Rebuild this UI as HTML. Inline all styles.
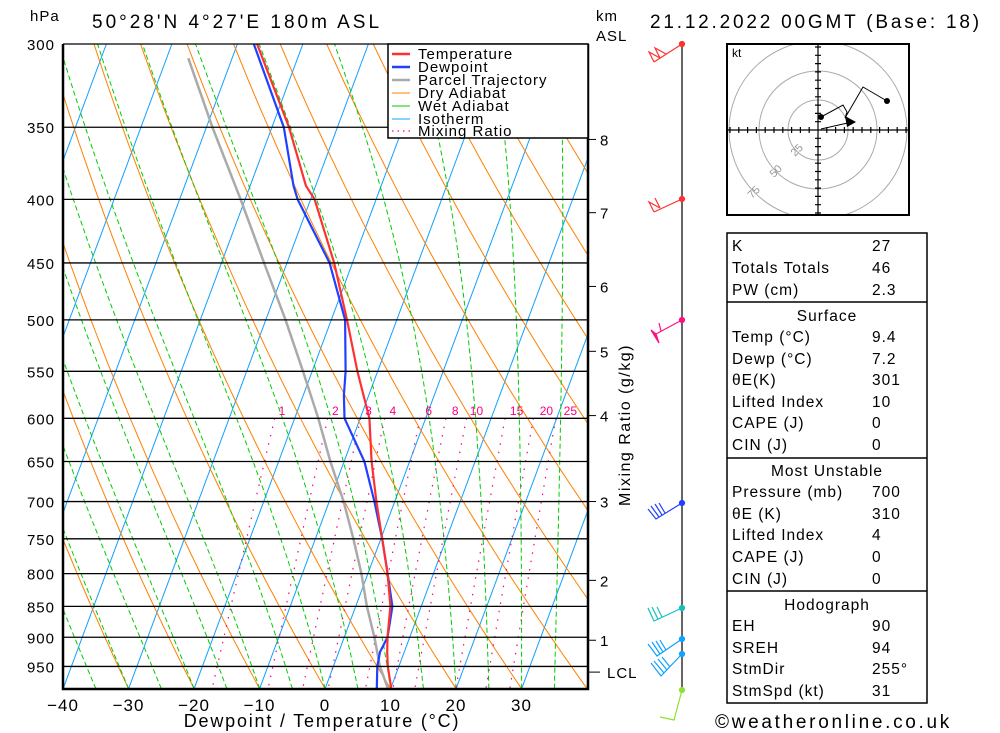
<!DOCTYPE html>
<html><head><meta charset="utf-8">
<style>
html,body{margin:0;padding:0;background:#fff;}
svg{display:block;font-family:"Liberation Sans",sans-serif;}
.t{font-size:15px;letter-spacing:1px;fill:#000;}
</style></head>
<body>
<svg id="chart" width="1000" height="733" viewBox="0 0 1000 733" xmlns="http://www.w3.org/2000/svg">
<defs><clipPath id="plotclip"><rect x="63" y="44" width="525" height="645"/></clipPath>
<clipPath id="hodoclip"><rect x="728" y="45" width="180" height="169"/></clipPath></defs>
<rect x="0" y="0" width="1000" height="733" fill="#fff"/>
<g id="bg" clip-path="url(#plotclip)"></g>
<g id="series" clip-path="url(#plotclip)"></g>
<g id="axes"></g>

<text x="30" y="21" class="t">hPa</text>
<text x="92" y="28" style="font-size:19px;letter-spacing:3px">50°28'N 4°27'E 180m ASL</text>
<text x="650" y="28" style="font-size:19px;letter-spacing:2.8px">21.12.2022 00GMT (Base: 18)</text>
<text x="596" y="21" class="t">km</text>
<text x="596" y="41" class="t">ASL</text>
<text x="322" y="727" text-anchor="middle" style="font-size:18px;letter-spacing:1.8px">Dewpoint / Temperature (°C)</text>
<text transform="translate(630,425) rotate(-90)" text-anchor="middle" style="font-size:16px;letter-spacing:1.5px">Mixing Ratio (g/kg)</text>

<g>
<rect x="388" y="44" width="200" height="94" fill="#fff" stroke="#000" stroke-width="1.5"/>
<line x1="392" y1="54" x2="410" y2="54" stroke="#ff3030" stroke-width="2.5"/><text x="418" y="59" class="t">Temperature</text>
<line x1="392" y1="67" x2="410" y2="67" stroke="#2040ff" stroke-width="2.5"/><text x="418" y="72" class="t">Dewpoint</text>
<line x1="392" y1="80" x2="410" y2="80" stroke="#aaa" stroke-width="2.5"/><text x="418" y="85" class="t">Parcel Trajectory</text>
<line x1="392" y1="93" x2="410" y2="93" stroke="#ff8000" stroke-width="1"/><text x="418" y="98" class="t">Dry Adiabat</text>
<line x1="392" y1="106" x2="410" y2="106" stroke="#00cc00" stroke-width="1"/><text x="418" y="111" class="t">Wet Adiabat</text>
<line x1="392" y1="119" x2="410" y2="119" stroke="#10a0ff" stroke-width="1"/><text x="418" y="124" class="t">Isotherm</text>
<line x1="392" y1="131" x2="410" y2="131" stroke="#ff0080" stroke-width="1.2" stroke-dasharray="1.5,4"/><text x="418" y="136" class="t">Mixing Ratio</text>
</g>

<g fill="none" stroke-width="1.2">
<line x1="682" y1="44" x2="682" y2="690" stroke="#000" stroke-width="1.2"/>
<g stroke="#ff3030"><polyline points="682,44 654,62"/><polyline points="654,62 649,52 660,58"/><polyline points="660,58 655,48 666,54"/><circle cx="682" cy="44" r="2.5" fill="#ff3030"/></g>
<g stroke="#ff3030"><polyline points="682,199 654,212"/><polyline points="654,212 649,202 660,208"/><polyline points="660,208 655,198"/><circle cx="682" cy="199" r="2.5" fill="#ff3030"/></g>
<g stroke="#ff1080"><polyline points="682,320 656,334"/><polygon points="656,334 651,330 659,343" fill="#ff1080"/><line x1="661" y1="331" x2="659" y2="323"/><circle cx="682" cy="320" r="2.5" fill="#ff1080"/></g>
<g stroke="#2040ff"><polyline points="682,503 656,519 648,509"/><line x1="659" y1="517" x2="651" y2="506"/><line x1="662" y1="515" x2="655" y2="504"/><line x1="665" y1="513" x2="659" y2="503"/><circle cx="682" cy="503" r="2.5" fill="#2040ff"/></g>
<g stroke="#10c0c0"><polyline points="682,608 654,621 648,608"/><line x1="658" y1="619" x2="652" y2="607"/><line x1="662" y1="617" x2="657" y2="607"/><circle cx="682" cy="608" r="2.5" fill="#10c0c0"/></g>
<g stroke="#10a0ff"><polyline points="682,639 657,656 648,644"/><line x1="660" y1="654" x2="652" y2="642"/><line x1="663" y1="652" x2="656" y2="641"/><line x1="666" y1="650" x2="660" y2="640"/><circle cx="682" cy="639" r="2.5" fill="#10a0ff"/></g>
<g stroke="#10a0ff"><polyline points="682,654 661,676 651,663"/><line x1="664" y1="673" x2="654" y2="661"/><line x1="667" y1="670" x2="658" y2="659"/><line x1="670" y1="667" x2="662" y2="657"/><circle cx="682" cy="654" r="2.5" fill="#10a0ff"/></g>
<g stroke="#90e030"><polyline points="682,690 674,720 660,717"/><circle cx="682" cy="690" r="2.5" fill="#90e030"/></g>
</g>

<g>
<rect x="727" y="44" width="182" height="171" fill="#fff" stroke="#000" stroke-width="2"/>
<g clip-path="url(#hodoclip)" fill="none" stroke="#aaa" stroke-width="1">
<circle cx="818" cy="130" r="30"/><circle cx="818" cy="130" r="59"/><circle cx="818" cy="130" r="89"/>
</g>
<g stroke="#000" stroke-width="1.2">
<line x1="728" y1="130" x2="908" y2="130"/><line x1="818" y1="45" x2="818" y2="214"/>
<path id="hticks" d=""/>
</g>
<text x="732" y="57" style="font-size:12px">kt</text>
<text transform="translate(795,157) rotate(-45)" style="font-size:11px;fill:#999">25</text>
<text transform="translate(774,178) rotate(-45)" style="font-size:11px;fill:#999">50</text>
<text transform="translate(752,199) rotate(-45)" style="font-size:11px;fill:#999">75</text>
<polyline points="821,117 843,105 847,112 845,118 863,87 887,101" fill="none" stroke="#000" stroke-width="1"/>
<line x1="821" y1="129" x2="852" y2="122" stroke="#000" stroke-width="1"/>
<polygon points="856,122 845,116 847,127" fill="#000"/>
<circle cx="821" cy="117" r="3" fill="#000"/><circle cx="887" cy="101" r="3" fill="#000"/>
</g>

<g class="t" style="font-size:15.5px">
<rect x="727" y="233" width="200" height="470" fill="none" stroke="#000" stroke-width="1.5"/>
<line x1="727" y1="302" x2="927" y2="302" stroke="#000" stroke-width="1.5"/>
<line x1="727" y1="458" x2="927" y2="458" stroke="#000" stroke-width="1.5"/>
<line x1="727" y1="591" x2="927" y2="591" stroke="#000" stroke-width="1.5"/>
<g id="tbl"></g>
</g>
<text x="715" y="728" style="font-size:19px;letter-spacing:2.7px">©weatheronline.co.uk</text>

<script>
// ---- data ----
var pLevels = [300,350,390,400,450,500,550,575,600,650,700,750,800,850,900,925,950,990];
var tempC   = [-47.0,-37.4,-31.5,-29.4,-22.8,-17.6,-13.1,-10.8,-8.6,-5.8,-2.8,0.2,3.0,5.3,6.6,7.4,8.3,10.1];
var dewC    = [-47.5,-38.2,-33.4,-32.0,-23.5,-17.9,-14.9,-13.8,-12.4,-6.9,-3.1,0.2,3.0,5.6,6.6,6.3,6.7,7.9];
var parcelP = [308,350,400,450,500,550,600,650,700,750,800,850,900,950,990];
var parcelC = [-56.7,-49.1,-40.7,-33.5,-27.0,-21.4,-16.4,-12.1,-7.8,-4.2,-1.0,1.7,4.6,7.1,9.6];
var isobars = [300,350,400,450,500,550,600,650,700,750,800,850,900,950];
var xTicks = [-40,-30,-20,-10,0,10,20,30];
var kmTicks = [8,7,6,5,4,3,2,1];
var kmPress = [358,410,470,530,597,700,810,905];
var lclP = 960;
var mixRatios = [1,2,3,4,6,8,10,15,20,25];
var isotherms = [-110,-100,-90,-80,-70,-60,-50,-40,-30,-20,-10,0,10,20,30,40];
var dryBottomC = [-70,-60,-50,-40,-30,-20,-10,0,10,20,30,40,50,60,70,80,90,100,110,120,130,140];
var wetBottomC = [-40,-35,-30,-25,-20,-15,-10,-5,0,5,10,15,20,25,30,35,40];
var tblLabels = ["K","Totals Totals","PW (cm)","","Temp (°C)","Dewp (°C)","θE(K)","Lifted Index","CAPE (J)","CIN (J)","","Pressure (mb)","θE (K)","Lifted Index","CAPE (J)","CIN (J)","","EH","SREH","StmDir","StmSpd (kt)"];
var tblValues = ["27","46","2.3","Surface","9.4","7.2","301","10","0","0","Most Unstable","700","310","4","0","0","Hodograph","90","94","255°","31"];

// ---- axes functions ----
var X0=325, XS=6.55, SK=0.372, YB=689, Y300=44, YK=540, PB=990;
function yP(p){ return Y300 + YK*(Math.log(p)-Math.log(300)); }
function xT(t,p){ return X0 + XS*t + SK*(YB - yP(p)); }
var NS="http://www.w3.org/2000/svg";
function mk(tag,parent){ var e=document.createElementNS(NS,tag); parent.appendChild(e); return e; }
var bg=document.getElementById('bg'), se=document.getElementById('series'), ax=document.getElementById('axes');
function poly(parent,pts,color,w,dash){
  var e=mk('polyline',parent);
  e.setAttribute('points',pts.map(function(q){return q[0].toFixed(1)+','+q[1].toFixed(1);}).join(' '));
  e.setAttribute('fill','none'); e.setAttribute('stroke',color); e.setAttribute('stroke-width',w);
  if(dash) e.setAttribute('stroke-dasharray',dash);
  return e;
}
isotherms.forEach(function(t){
  var l=poly(bg,[[xT(t,1000),yP(1000)],[xT(t,300),yP(300)]],'#10a0ff',1);
  
  
});
dryBottomC.forEach(function(tb){
  var th=tb+273.15, pts=[];
  for(var p=1000;p>=295;p-=10){ pts.push([xT(th*Math.pow(p/PB,0.286)-273.15,p),yP(p)]); }
  var l=poly(bg,pts,'#ff8000',1);
  
  
});
function es(tc){return 6.112*Math.exp(17.67*tc/(tc+243.5));}
wetBottomC.forEach(function(tw){
  var T=tw+273.15, pts=[];
  for(var p=PB;p>=300;p-=5){
    pts.push([xT(T-273.15,p),yP(p)]);
    var e=es(T-273.15), rs=0.622*e/(p-e);
    var d=(287*T+2.5e6*rs)/(p*(1005+2.5e6*2.5e6*rs*0.622/(287*T*T)));
    T-=5*d;
  }
  var l=poly(bg,pts,'#00cc00',1,'5,3');
  
  
});
function tdFromW(w,p){ var e=w*p/(622+w); var a=Math.log(e/6.112); return 243.5*a/(17.67-a); }
mixRatios.forEach(function(w){
  var pts=[]; for(var p=600;p<=1000;p+=10){ pts.push([xT(tdFromW(w,p),p),yP(p)]); }
  var l=poly(bg,pts,'#ff0080',1.2,'1.5,7');
  
  
  var t=mk('text',ax); t.textContent=w; t.setAttribute('x',xT(tdFromW(w,600),600)+7+w*0.3); t.setAttribute('y',415);
  t.setAttribute('text-anchor','middle'); t.setAttribute('style','font-size:12px;fill:#ff0080');
  
  
});
isobars.forEach(function(p){
  var l=mk('line',ax); l.setAttribute('x1',63); l.setAttribute('x2',588); l.setAttribute('y1',yP(p)); l.setAttribute('y2',yP(p));
  l.setAttribute('stroke','#000'); l.setAttribute('stroke-width',1.3);
  
  
  var t=mk('text',ax); t.textContent=p; t.setAttribute('x',55); t.setAttribute('y',yP(p)+6); t.setAttribute('text-anchor','end'); t.setAttribute('class','t');
  
  
});
var fr=mk('path',ax); fr.setAttribute('d','M63,44 V689 H588 V44'); fr.setAttribute('fill','none'); fr.setAttribute('stroke','#000'); fr.setAttribute('stroke-width',2.5);


xTicks.forEach(function(v){
  var t=mk('text',ax); t.textContent=(v<0?'\u2212'+(-v):v); t.setAttribute('x',X0+XS*v); t.setAttribute('y',711); t.setAttribute('text-anchor','middle');
  t.setAttribute('style','font-size:17px;letter-spacing:1px');
  
  
});
kmTicks.forEach(function(k,i){
  var y=yP(kmPress[i]);
  var l=mk('line',ax); l.setAttribute('x1',588); l.setAttribute('x2',596); l.setAttribute('y1',y); l.setAttribute('y2',y); l.setAttribute('stroke','#000');
  
  
  var t=mk('text',ax); t.textContent=k; t.setAttribute('x',600); t.setAttribute('y',y+6); t.setAttribute('class','t');
  
  
});
(function(){ var y=yP(lclP);
  var l=mk('line',ax); l.setAttribute('x1',588); l.setAttribute('x2',600); l.setAttribute('y1',y); l.setAttribute('y2',y); l.setAttribute('stroke','#000');
  
  
  var t=mk('text',ax); t.textContent='LCL'; t.setAttribute('x',607); t.setAttribute('y',y+6); t.setAttribute('class','t');
  
  
})();
var parc=poly(se,parcelP.map(function(p,i){return [xT(parcelC[i],p),yP(p)];}),'#aaa',2.5);


var dl=poly(se,pLevels.map(function(p,i){return [xT(dewC[i],p),yP(p)];}),'#2040ff',2.2);


var tl=poly(se,pLevels.map(function(p,i){return [xT(tempC[i],p),yP(p)];}),'#ff3030',2.2);


var d=''; for(var i=-10;i<=10;i++){ if(i==0)continue; var x=818+i*8.8; d+='M'+x+',127V133'; var y=130+i*8.3; d+='M815,'+y+'H821'; }
document.getElementById('hticks').setAttribute('d',d);
var tb=document.getElementById('tbl');
var rowY=[251,273,295,321,342,364,385,407,428,450,476,497,519,540,562,584,610,631,653,674,696];
tblLabels.forEach(function(lab,i){
  if(lab===""){
    var t=mk('text',tb); t.textContent=tblValues[i]; t.setAttribute('x',827); t.setAttribute('y',rowY[i]); t.setAttribute('text-anchor','middle');
    
    
  } else {
    var a=mk('text',tb); a.textContent=lab; a.setAttribute('x',732); a.setAttribute('y',rowY[i]);
    
    
    var b=mk('text',tb); b.textContent=tblValues[i]; b.setAttribute('x',872); b.setAttribute('y',rowY[i]);
    
    
  }
});
</script>
</svg>
</body></html>
